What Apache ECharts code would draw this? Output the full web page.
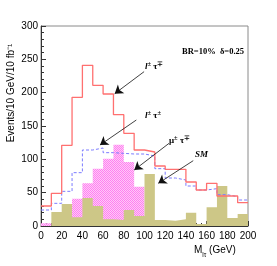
<!DOCTYPE html>
<html><head><meta charset="utf-8">
<script src="https://cdn.jsdelivr.net/npm/echarts@6/dist/echarts.min.js"></script>
<style>html,body{margin:0;padding:0;background:#fff}#c{width:277px;height:266px}</style>
</head><body><div id="c"></div>
<script>
// bin left edges (GeV)
const binLeft = [0,10,20,30,40,50,60,70,80,90,100,110,120,130,140,150,160,170,180,190];
const binEnd = 200;
// l± tau∓ signal (red solid)
const ltauOS = [30,49,121,193,241,211,198,167,139,114,111,90,85,85,66,54,64,45,45,35];
// l± tau± (blue dotted)
const ltauSS = [24,34,52,80,114,117,110,109,108,108,105,86,72,69,60,54,56,47,44,39];
// mu± tau∓ (magenta hatched)
const mutau = [4,0,0,41,64,86,101,122,96,59,0,0,0,0,0,0,0,0,0,0];
// SM background (olive filled)
const sm = [0,21,33,13,42,30,10,9,24,15,78,9,8,10,20,3,28,60,12,18];
const xTicks = [0,20,40,60,80,100,120,140,160,180,200];
const yTicks = [0,50,100,150,200,250,300];

function steps(vals){
  const d = binLeft.map((x,i)=>[x, vals[i]]);
  d.push([binEnd, vals[vals.length-1]]);
  return d;
}
// fine hatch pattern
const pc = document.createElement('canvas');
pc.width = 2; pc.height = 2;
const g = pc.getContext('2d');
g.fillStyle = '#ffcaf8'; g.fillRect(0,0,2,2);
g.fillStyle = '#ff80f0'; g.fillRect(0,0,1,1); g.fillRect(1,1,1,1);

const chart = echarts.init(document.getElementById('c'), null, {renderer:'canvas'});
const arrows = [
  [[99.6,231.5],[71.2,198.5]],
  [[92.1,159],[57,121.5]],
  [[123.7,124],[90.1,84]],
  [[147.1,98],[113.3,64]]
];
const sansAx = {fontFamily:'Liberation Sans, Arial, sans-serif', fontSize:10, color:'#000'};
function lab(){
  return {
    rich:{
      b:{fontFamily:'Liberation Serif, serif', fontWeight:'bold', fontStyle:'italic', fontSize:9, lineHeight:11, verticalAlign:'bottom'},
      g:{fontFamily:'Liberation Serif, serif', fontWeight:'bold', fontSize:9, lineHeight:11, verticalAlign:'bottom'},
      s:{fontFamily:'Liberation Serif, serif', fontWeight:'bold', fontSize:6.5, lineHeight:11, verticalAlign:'top'}
    }
  };
}
const opt = {
  animation:false,
  grid:{left:41, right:29, top:26, bottom:40, show:true, borderColor:'#8a8a8a', borderWidth:1},
  xAxis:{type:'value', min:0, max:200, interval:20,
    axisLine:{onZero:false, lineStyle:{color:'#333', width:1}},
    axisTick:{inside:true, length:5, lineStyle:{color:'#333'}},
    minorTick:{show:true, splitNumber:4, length:3, lineStyle:{color:'#333'}},
    splitLine:{show:false},
    axisLabel:Object.assign({margin:5}, sansAx)},
  yAxis:{type:'value', min:0, max:300, interval:50,
    axisLine:{show:true, lineStyle:{color:'#333', width:1}},
    axisTick:{show:true, inside:true, length:5, lineStyle:{color:'#333'}},
    minorTick:{show:true, splitNumber:5, length:3, lineStyle:{color:'#333'}},
    splitLine:{show:false},
    axisLabel:Object.assign({margin:3}, sansAx)},
  series:[
    {type:'line', step:'end', data:steps(mutau), symbol:'none', z:1,
      lineStyle:{width:0, color:'#ff66ee'}, areaStyle:{color:{image:pc, repeat:'repeat'}, opacity:1}},
    {type:'line', step:'end', data:steps(sm), symbol:'none', z:2,
      lineStyle:{width:0, color:'#cdc787'}, areaStyle:{color:'#cdc787', opacity:1}},
    {type:'line', step:'end', data:steps(ltauSS), symbol:'none', z:3,
      lineStyle:{width:1, color:'#7b7bff', type:[3,2]}},
    {type:'line', step:'end', data:steps(ltauOS), symbol:'none', z:4,
      lineStyle:{width:1.3, color:'#ff7070'},
      markLine:{silent:true, animation:false, symbol:['none','arrow'], symbolSize:8,
        label:{show:false}, emphasis:{disabled:true},
        itemStyle:{color:'#111'},
        lineStyle:{color:'#111', width:0.8, type:'solid', opacity:1},
        data: arrows.map(a=>[{coord:a[0], symbol:'none'},{coord:a[1], symbol:'arrow', symbolSize:8}])}}
  ],
  graphic:[
    {type:'text', x:11, y:93, rotation:Math.PI/2, style:{text:'Events/10 GeV/10 fb\u207B\u00B9', font:'10px "Liberation Sans", Arial, sans-serif', fill:'#000', align:'center', verticalAlign:'middle'}},
    {type:'text', x:194, y:252, style:{text:'{m|M}{s|l\u03C4}{m| (GeV)}', fill:'#000', verticalAlign:'middle',
      rich:{m:{fontFamily:'Liberation Sans, Arial, sans-serif', fontSize:10, lineHeight:14, verticalAlign:'top'},
            s:{fontFamily:'Liberation Sans, Arial, sans-serif', fontSize:6.5, lineHeight:14, verticalAlign:'bottom'}}}},
    {type:'text', x:182, y:52, style:{text:'BR=10%  \u03B4=0.25', font:'bold 8.5px "Liberation Serif", "Times New Roman", serif', fill:'#000', verticalAlign:'middle'}},
    {type:'text', x:145, y:66, style:Object.assign({text:'{b|l}{s|\u00B1}{g| \u03C4}{s|\u2213}', verticalAlign:'middle', fill:'#000'}, lab())},
    {type:'text', x:145, y:115, style:Object.assign({text:'{b|l}{s|\u00B1}{g| \u03C4}{s|\u00B1}', verticalAlign:'middle', fill:'#000'}, lab())},
    {type:'text', x:169, y:140, style:Object.assign({text:'{g|\u03BC}{s|\u00B1}{g| \u03C4}{s|\u2213}', verticalAlign:'middle', fill:'#000'}, lab())},
    {type:'text', x:195, y:155, style:{text:'SM', font:'italic bold 9px "Liberation Serif", serif', fill:'#000', verticalAlign:'middle'}}
  ]
};
chart.setOption(opt);
</script></body></html>
